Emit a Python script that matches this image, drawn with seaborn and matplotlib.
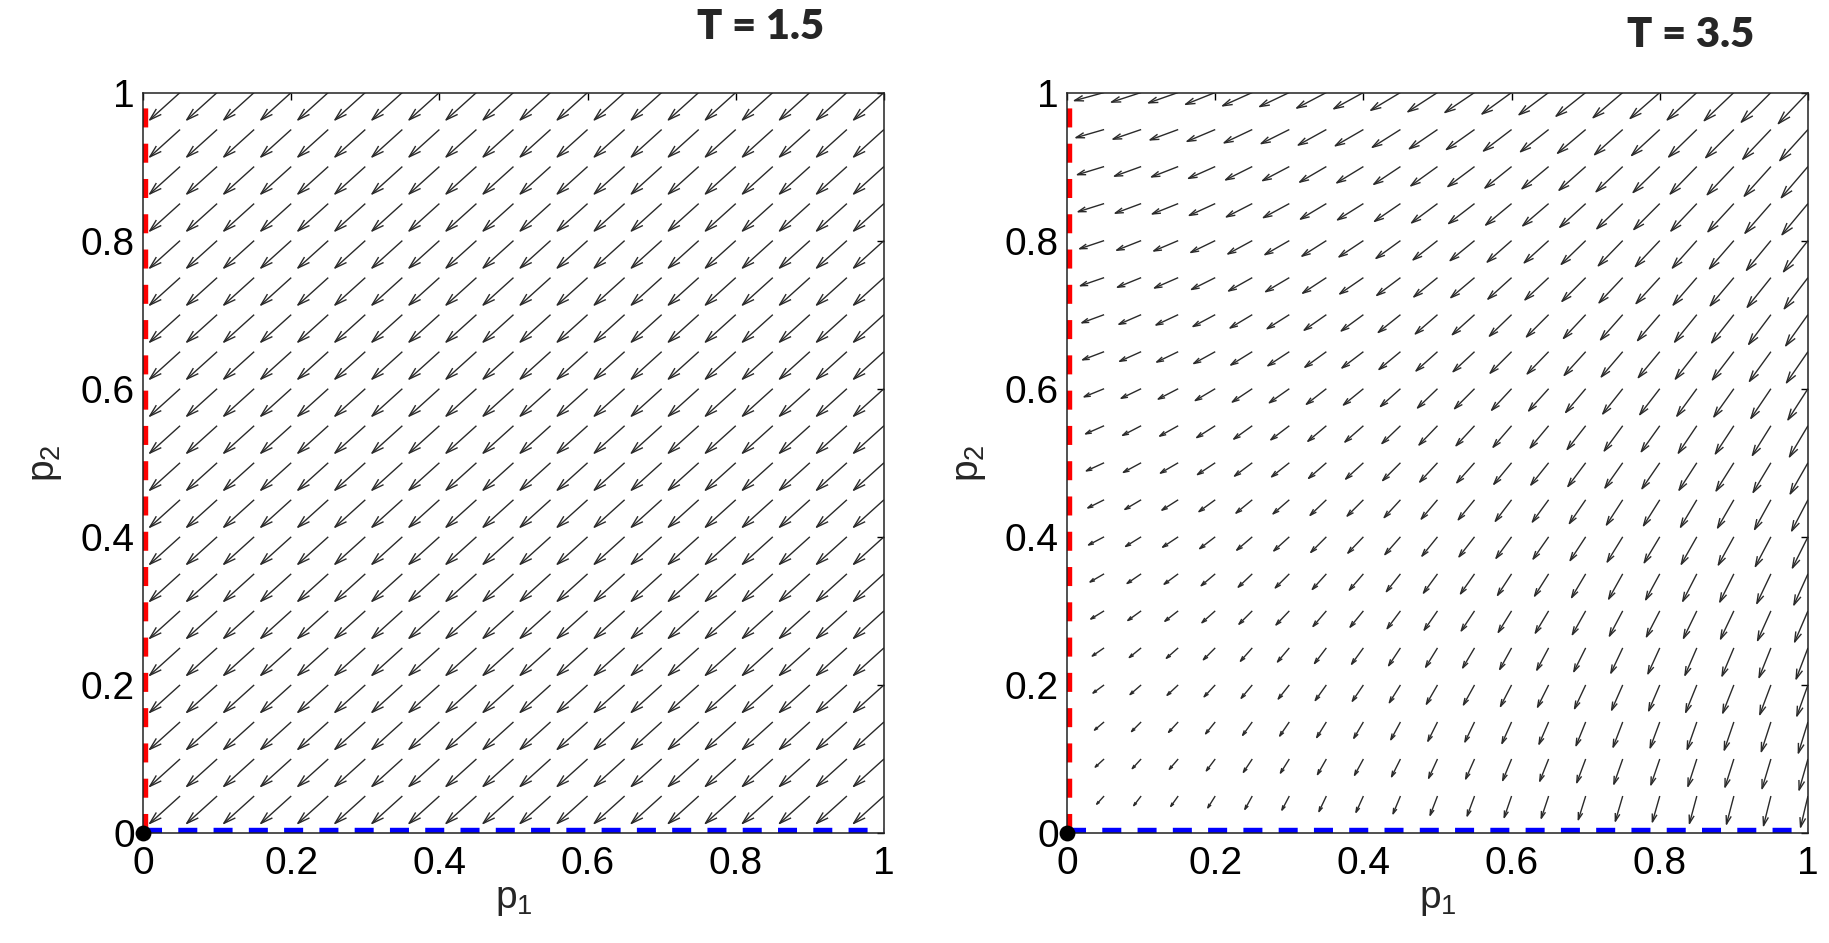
import numpy as np
import matplotlib.pyplot as plt
import seaborn as sns
from matplotlib.collections import LineCollection

# grid of the arrows (0:0.05:1, the row/column on the axes is empty)
p_grid = [0.05, 0.10, 0.15, 0.20, 0.25, 0.30, 0.35, 0.40, 0.45, 0.50,
          0.55, 0.60, 0.65, 0.70, 0.75, 0.80, 0.85, 0.90, 0.95, 1.00]

# T = 1.5 : every arrow has the same step
left_du = -0.041
left_dv = -0.037

# T = 3.5 : horizontal step read per row (p2), vertical step per column (p1)
right_du_by_p2 = [-0.010, -0.012, -0.013, -0.015, -0.016, -0.018, -0.019, -0.021, -0.022, -0.024,
                  -0.025, -0.027, -0.029, -0.030, -0.032, -0.033, -0.035, -0.036, -0.038, -0.040]
right_dv_by_p1 = [-0.011, -0.013, -0.014, -0.016, -0.018, -0.019, -0.021, -0.022, -0.024, -0.026,
                  -0.027, -0.029, -0.030, -0.032, -0.034, -0.035, -0.037, -0.038, -0.040, -0.042]

tick_values = [0, 0.2, 0.4, 0.6, 0.8, 1]
tick_labels = ['0', '0.2', '0.4', '0.6', '0.8', '1']
titles = ['T = 1.5', 'T = 3.5']
title_pos = [(0.834, 1.088), (0.842, 1.078)]

sns.set_theme(style='white')
plt.rcParams['font.family'] = ['Liberation Sans', 'DejaVu Sans']
plt.rcParams['mathtext.fontset'] = 'custom'
plt.rcParams['mathtext.rm'] = 'Liberation Sans'
plt.rcParams['lines.scale_dashes'] = False


def draw_field(ax, du, dv):
    '''MATLAB-like quiver: shaft plus an open arrow head'''
    X, Y = np.meshgrid(p_grid, p_grid)
    U = np.broadcast_to(du, X.shape)
    V = np.broadcast_to(dv, X.shape)
    alpha, beta = 0.30, 0.30
    segs = []
    for x, y, u, v in zip(X.ravel(), Y.ravel(), U.ravel(), V.ravel()):
        tx, ty = x + u, y + v
        segs.append([(x, y), (tx, ty)])
        b1 = (tx - alpha * (u + beta * v), ty - alpha * (v - beta * u))
        b2 = (tx - alpha * (u - beta * v), ty - alpha * (v + beta * u))
        segs.append([b1, (tx, ty), b2])
    ax.add_collection(LineCollection(segs, colors='#2a2a2a', linewidths=1.0, zorder=1))


fig = plt.figure(figsize=(18.29, 9.43), dpi=100)
ax1 = fig.add_axes([0.0782, 0.1166, 0.4051, 0.7853])
ax2 = fig.add_axes([0.5834, 0.1166, 0.4051, 0.7853])

draw_field(ax1, left_du, left_dv)
draw_field(ax2, np.array(right_du_by_p2)[:, None], np.array(right_dv_by_p1)[None, :])

dash = (0, (13.7, 11.7))
for ax, title, (tx, ty) in zip([ax1, ax2], titles, title_pos):
    sns.lineplot(x=[0, 0], y=[0, 1], estimator=None, sort=False, color='#ff0000',
                 linewidth=7.5, linestyle=dash, ax=ax, zorder=2)
    sns.lineplot(x=[0, 1], y=[0, 0], estimator=None, sort=False, color='#0000ff',
                 linewidth=7.5, linestyle=dash, ax=ax, zorder=2)
    sns.scatterplot(x=[0], y=[0], color='black', s=130, linewidth=0, ax=ax,
                    clip_on=False, zorder=5)
    ax.set_xlim(0, 1)
    ax.set_ylim(0, 1)
    ax.set_xticks(tick_values)
    ax.set_xticklabels(tick_labels)
    ax.set_yticks(tick_values)
    ax.set_yticklabels(tick_labels)
    ax.tick_params(direction='in', top=True, right=True, length=5, width=1,
                   labelsize=28, colors='black')
    ax.tick_params(axis='x', pad=9)
    ax.tick_params(axis='y', pad=6)
    for s in ax.spines.values():
        s.set_color('#222222')
        s.set_linewidth(1.1)
        s.set_visible(True)
    ax.set_xlabel(r'$\mathregular{p_1}$', fontsize=28, labelpad=0)
    ax.set_ylabel(r'$\mathregular{p_2}$', fontsize=28, labelpad=12)
    ax.text(tx, ty, title, transform=ax.transAxes, ha='center', va='center',
            fontsize=30, fontweight='heavy', family=['Lato', 'DejaVu Sans'])

plt.savefig('out.png', dpi=100)
